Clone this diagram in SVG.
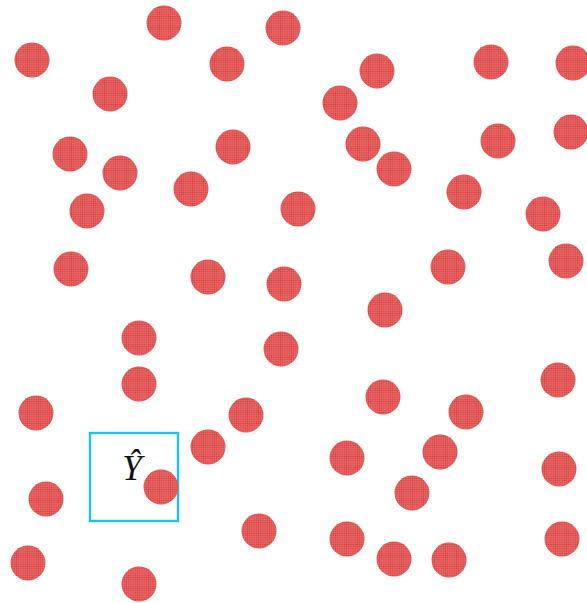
<svg xmlns="http://www.w3.org/2000/svg" width="587" height="603" viewBox="0 0 587 603">
<defs>
<pattern id="dots" width="2.2" height="2.2" patternUnits="userSpaceOnUse">
<rect width="2.2" height="2.2" fill="#ec6a68"/>
<circle cx="1.1" cy="1.1" r="0.75" fill="#cf3c3c"/>
</pattern>
<style>
.c{fill:url(#dots);}
.box{fill:none;stroke:#19c3f2;stroke-width:2.4;}
.lbl{font-family:"Liberation Serif","DejaVu Serif",serif;font-style:italic;font-size:35px;fill:#111;}
</style>
</defs>
<rect width="587" height="603" fill="#fff"/>
<g id="particles">
<circle class="c" cx="164" cy="23" r="17.5"/>
<circle class="c" cx="283" cy="28" r="17.5"/>
<circle class="c" cx="32" cy="60" r="17.5"/>
<circle class="c" cx="227" cy="64" r="17.5"/>
<circle class="c" cx="110" cy="94" r="17.5"/>
<circle class="c" cx="70" cy="154" r="17.5"/>
<circle class="c" cx="233" cy="147" r="17.5"/>
<circle class="c" cx="120" cy="173" r="17.5"/>
<circle class="c" cx="191" cy="189" r="17.5"/>
<circle class="c" cx="87" cy="211" r="17.5"/>
<circle class="c" cx="298" cy="209" r="17.5"/>
<circle class="c" cx="71" cy="269" r="17.5"/>
<circle class="c" cx="208" cy="277" r="17.5"/>
<circle class="c" cx="284" cy="284" r="17.5"/>
<circle class="c" cx="491" cy="62" r="17.5"/>
<circle class="c" cx="573" cy="63" r="17.5"/>
<circle class="c" cx="377" cy="71" r="17.5"/>
<circle class="c" cx="340" cy="103" r="17.5"/>
<circle class="c" cx="363" cy="144" r="17.5"/>
<circle class="c" cx="498" cy="141" r="17.5"/>
<circle class="c" cx="571" cy="132" r="17.5"/>
<circle class="c" cx="394" cy="169" r="17.5"/>
<circle class="c" cx="464" cy="192" r="17.5"/>
<circle class="c" cx="543" cy="214" r="17.5"/>
<circle class="c" cx="448" cy="267" r="17.5"/>
<circle class="c" cx="566" cy="261" r="17.5"/>
<circle class="c" cx="139" cy="338" r="17.5"/>
<circle class="c" cx="281" cy="349" r="17.5"/>
<circle class="c" cx="139" cy="384" r="17.5"/>
<circle class="c" cx="36" cy="413" r="17.5"/>
<circle class="c" cx="246" cy="415" r="17.5"/>
<circle class="c" cx="208" cy="447" r="17.5"/>
<circle class="c" cx="46" cy="499" r="17.5"/>
<circle class="c" cx="259" cy="531" r="17.5"/>
<circle class="c" cx="28" cy="563" r="17.5"/>
<circle class="c" cx="139" cy="584" r="17.5"/>
<circle class="c" cx="385" cy="310" r="17.5"/>
<circle class="c" cx="558" cy="380" r="17.5"/>
<circle class="c" cx="383" cy="397" r="17.5"/>
<circle class="c" cx="466" cy="412" r="17.5"/>
<circle class="c" cx="440" cy="452" r="17.5"/>
<circle class="c" cx="347" cy="458" r="17.5"/>
<circle class="c" cx="559" cy="469" r="17.5"/>
<circle class="c" cx="412" cy="493" r="17.5"/>
<circle class="c" cx="347" cy="539" r="17.5"/>
<circle class="c" cx="562" cy="539" r="17.5"/>
<circle class="c" cx="394" cy="559" r="17.5"/>
<circle class="c" cx="449" cy="560" r="17.5"/>
</g>
<g id="selection">
<rect class="box" x="90" y="433" width="88" height="88"/>
<circle class="c" cx="161" cy="487" r="17.5"/>
<text class="lbl" x="132" y="480" text-anchor="middle">Ŷ</text>
</g>
</svg>
